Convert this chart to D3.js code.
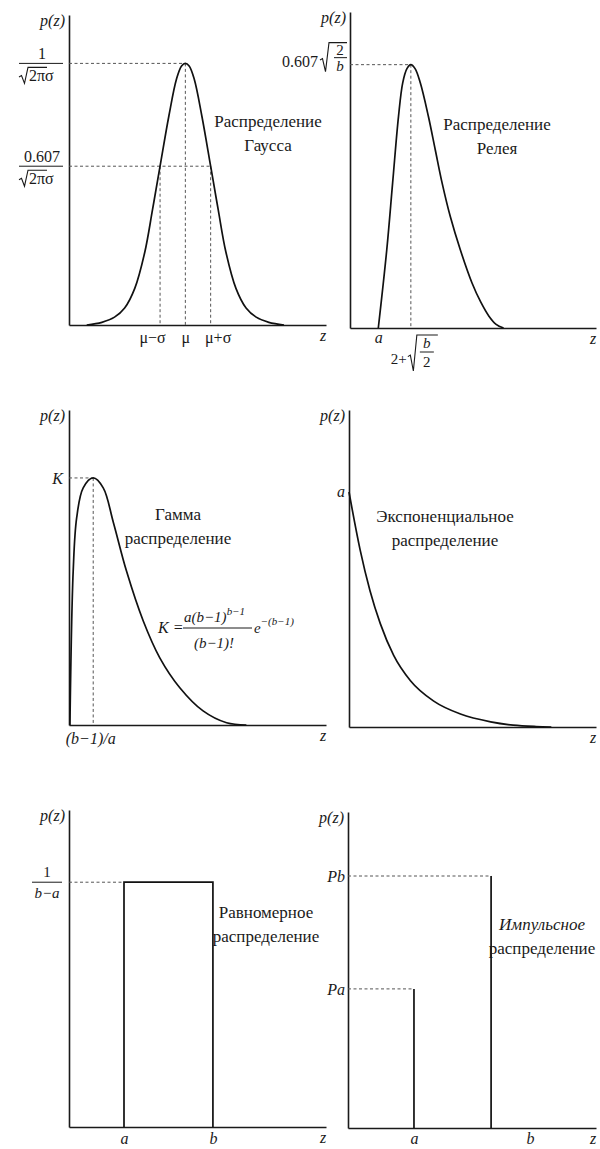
<!DOCTYPE html>
<meta charset="utf-8">
<script src="https://cdn.jsdelivr.net/npm/d3@7"></script>
<style>
body { margin: 0; background: #fff; }
svg text { font-family: "Times New Roman", Times, "Liberation Serif", "DejaVu Serif", "Noto Serif", serif; fill: #1a1a1a; }
.axis path { stroke: #1a1a1a; stroke-width: 1.6; }
.axis text { font-size: 16px; }
.curve { fill: none; stroke: #111; stroke-width: 1.7; }
.guide { fill: none; stroke: #555; stroke-width: 1; stroke-dasharray: 3,2.5; }
.title { font-size: 17px; text-anchor: middle; }
.lab { font-size: 16px; }
.it { font-style: italic; }
.bar { stroke: #1a1a1a; stroke-width: 1; }
.rad { fill: none; stroke: #1a1a1a; stroke-width: 1.1; }
</style>
<body>
<div id="chart"></div>
<script>
//---------------------------- DATA ----------------------------//
// Gauss: z in sigma units from mu, p relative to the peak
const gaussZ = [-3.9, -3.3, -2.8, -2.4, -2.0, -1.6, -1.3, -1.0, -0.65, -0.35, -0.15, 0, 0.15, 0.35, 0.65, 1.0, 1.3, 1.6, 2.0, 2.4, 2.8, 3.3, 3.9];
const gaussP = [0, 0.01, 0.03, 0.065, 0.14, 0.28, 0.44, 0.607, 0.80, 0.94, 0.99, 1, 0.99, 0.94, 0.80, 0.607, 0.44, 0.28, 0.14, 0.065, 0.03, 0.01, 0];
const gaussTickZ = [-1, 0, 1];
const gaussTicks = ["μ−σ", "μ", "μ+σ"];
const gaussLevel = 0.607;

// Rayleigh: z measured from a, peak at 1
const rayZ = [0, 0.26, 0.44, 0.62, 0.75, 0.88, 1.0, 1.13, 1.29, 1.54, 1.75, 1.96, 2.21, 2.52, 2.88, 3.15, 3.4, 3.62, 3.85];
const rayP = [0, 0.297, 0.551, 0.803, 0.931, 0.985, 1, 0.985, 0.931, 0.803, 0.677, 0.551, 0.424, 0.297, 0.171, 0.098, 0.045, 0.014, 0];

// Gamma: peak at (b-1)/a = 1
const gamZ = [0, 0.14, 0.29, 0.57, 1.0, 1.43, 1.86, 2.43, 3.15, 3.86, 4.72, 5.72, 6.73, 7.58];
const gamP = [0, 0.623, 0.839, 0.960, 1, 0.960, 0.822, 0.623, 0.421, 0.272, 0.151, 0.057, 0.009, 0];

// Exponential
const expZ = [0, 0.29, 0.55, 0.82, 1.17, 1.61, 2.22, 2.92, 3.71, 4.3, 4.9, 5.3];
const expP = [1, 0.755, 0.58, 0.44, 0.305, 0.197, 0.11, 0.055, 0.022, 0.008, 0.002, 0];

// Uniform
const uniA = 2.14, uniB = 5.60, uniH = 1;
const uniTickZ = [2.14, 5.60];
const uniTicks = ["a", "b"];

// Impulse
const impZ = [2.66, 5.77];
const impP = [0.552, 1];
const impTickZ = [2.66, 7.34];
const impTicks = ["a", "b"];

//---------------------------- LAYOUT ----------------------------//
const W = 600, H = 1149;
const frames = {
  gauss: { x0: 69, x1: 326, y0: 325, y1: 15, xd: [-4.6, 5.56], yd: [0, 1.185] },
  ray:   { x0: 350, x1: 596, y0: 328, y1: 12, xd: [-0.87, 6.69], yd: [0, 1.2] },
  gam:   { x0: 69, x1: 326, y0: 725, y1: 410, xd: [-0.04, 11.0], yd: [0, 1.275] },
  exp:   { x0: 349, x1: 596, y0: 727, y1: 410, xd: [0, 6.47], yd: [0, 1.349] },
  uni:   { x0: 69, x1: 326, y0: 1127, y1: 810, xd: [0, 10], yd: [0, 1.295] },
  imp:   { x0: 348, x1: 596, y0: 1128, y1: 812, xd: [0, 10], yd: [0, 1.254] }
};

const svg = d3.select("#chart").append("svg")
  .attr("width", W).attr("height", H);

function panel(f, ticks, labels, pad) {
  const g = svg.append("g");
  const x = d3.scaleLinear().domain(f.xd).range([f.x0, f.x1]);
  const y = d3.scaleLinear().domain(f.yd).range([f.y0, f.y1]);
  const xa = g.append("g").attr("class", "axis")
    .attr("transform", "translate(0," + f.y0 + ")")
    .call(d3.axisBottom(x).tickValues(ticks || []).tickSize(0).tickPadding(pad || 7)
      .tickFormat((d, i) => labels[i]));
  g.append("g").attr("class", "axis")
    .attr("transform", "translate(" + f.x0 + ",0)")
    .call(d3.axisLeft(y).tickValues([]).tickSize(0));
  // p(z) and z
  g.append("text").attr("class", "lab it").attr("x", f.x0 - 4).attr("y", f.y1 + 11)
    .attr("text-anchor", "end").text("p(z)");
  g.append("text").attr("class", "lab it").attr("x", f.x1 - 3).attr("y", Math.min(f.y0 + 16, H - 5))
    .attr("text-anchor", "middle").text("z");
  return { g, x, y, xa };
}

function guide(p, pts) {
  p.g.append("path").attr("class", "guide")
    .attr("d", d3.line().x(d => p.x(d[0])).y(d => p.y(d[1]))(pts));
}

function curve(p, Z, P, kind) {
  p.g.append("path").datum(d3.zip(Z, P)).attr("class", "curve")
    .attr("d", d3.line().x(d => p.x(d[0])).y(d => p.y(d[1])).curve(kind || d3.curveCatmullRom.alpha(0.5)));
}

function radical(g, x, top, bottom, w) {
  const mid = bottom - (bottom - top) * 0.4;
  g.append("path").attr("class", "rad")
    .attr("d", `M${x},${mid} l2.5,-1.5 L${x + 5.5},${bottom} L${x + 9},${top} h${w}`);
}

function txt(g, x, y, s, anchor, cls, size) {
  return g.append("text").attr("class", cls || "lab").attr("x", x).attr("y", y)
    .attr("text-anchor", anchor || "start").style("font-size", size ? size + "px" : null).text(s);
}

function title(g, x, y, lines, italicFirst) {
  lines.forEach((s, i) => {
    g.append("text").attr("class", "title" + (italicFirst && i === 0 ? " it" : ""))
      .attr("x", x).attr("y", y + i * 24).text(s);
  });
}

//---------------------------- GAUSS ----------------------------//
{
  const p = panel(frames.gauss, gaussTickZ, gaussTicks, 7);
  p.xa.selectAll(".tick text").attr("dx", (d, i) => [-8, 0, 7][i]);
  guide(p, [[p.x.invert(frames.gauss.x0), 1], [0, 1]]);
  guide(p, [[p.x.invert(frames.gauss.x0), gaussLevel], [1, gaussLevel]]);
  guide(p, [[-1, gaussLevel], [-1, 0]]);
  guide(p, [[0, 1], [0, 0]]);
  guide(p, [[1, gaussLevel], [1, 0]]);
  curve(p, gaussZ, gaussP);
  [[1, "1"], [gaussLevel, "0.607"]].forEach(([v, s]) => {
    const yb = p.y(v);
    txt(p.g, 42, yb - 4, s, "middle");
    p.g.append("line").attr("class", "bar").attr("x1", 19).attr("x2", 63).attr("y1", yb).attr("y2", yb);
    radical(p.g, 19, yb + 4, yb + 20, 19);
    txt(p.g, 29, yb + 18, "2πσ");
  });
  title(p.g, 268, 127, ["Распределение", "Гаусса"]);
}

//---------------------------- RAYLEIGH ----------------------------//
{
  const p = panel(frames.ray, [0], ["a"], 4);
  p.xa.selectAll(".tick text").attr("class", "it");
  guide(p, [[p.x.invert(frames.ray.x0), 1], [1, 1]]);
  guide(p, [[1, 1], [1, 0]]);
  curve(p, rayZ, rayP);
  const yb = p.y(1);
  txt(p.g, 318, yb + 2, "0.607", "end");
  radical(p.g, 320, yb - 22, yb + 7, 18);
  txt(p.g, 340, yb - 10, "2", "middle", "lab", 15);
  p.g.append("line").attr("class", "bar").attr("x1", 334).attr("x2", 347).attr("y1", yb - 7).attr("y2", yb - 7);
  txt(p.g, 340, yb + 6, "b", "middle", "lab it", 15);
  // 2 + sqrt(b/2) under the peak
  const xm = p.x(1);
  txt(p.g, xm - 20, 364, "2+", "start", "lab", 15);
  radical(p.g, xm - 3, 335, 371, 21);
  txt(p.g, xm + 16, 348, "b", "middle", "lab it", 15);
  p.g.append("line").attr("class", "bar").attr("x1", xm + 9).attr("x2", xm + 23).attr("y1", 352).attr("y2", 352);
  txt(p.g, xm + 16, 367, "2", "middle", "lab", 15);
  title(p.g, 497, 130, ["Распределение", "Релея"]);
}

//---------------------------- GAMMA ----------------------------//
{
  const p = panel(frames.gam, [1], ["(b−1)/a"], 8);
  p.xa.selectAll(".tick text").attr("class", "it").attr("dx", -3);
  guide(p, [[p.x.invert(frames.gam.x0), 1], [1, 1]]);
  guide(p, [[1, 1], [1, 0]]);
  curve(p, gamZ, gamP);
  txt(p.g, 63, p.y(1) + 6, "K", "end", "lab it");
  // formula
  txt(p.g, 158, 633, "K =", "start", "lab it");
  const num = txt(p.g, 184, 622, "", "start", "lab it", 15);
  num.append("tspan").text("a(b−1)");
  num.append("tspan").attr("dy", -7).style("font-size", "11px").text("b−1");
  p.g.append("line").attr("class", "bar").attr("x1", 183).attr("x2", 252).attr("y1", 628).attr("y2", 628);
  txt(p.g, 214, 648, "(b−1)!", "middle", "lab it", 15);
  const ex = txt(p.g, 254, 633, "", "start", "lab it", 15);
  ex.append("tspan").text("e");
  ex.append("tspan").attr("dy", -8).style("font-size", "11px").text("−(b−1)");
  title(p.g, 178, 520, ["Гамма", "распределение"]);
}

//---------------------------- EXPONENTIAL ----------------------------//
{
  const p = panel(frames.exp, [], [], 7);
  curve(p, expZ, expP, d3.curveMonotoneX);
  txt(p.g, 345, p.y(1) + 5, "a", "end", "lab it");
  title(p.g, 445, 522, ["Экспоненциальное", "распределение"]);
}

//---------------------------- UNIFORM ----------------------------//
{
  const p = panel(frames.uni, uniTickZ, uniTicks, 6);
  p.xa.selectAll(".tick text").attr("class", "it");
  guide(p, [[0, uniH], [uniA, uniH]]);
  p.g.append("path").attr("class", "curve")
    .attr("d", d3.line().x(d => p.x(d[0])).y(d => p.y(d[1]))([[uniA, 0], [uniA, uniH], [uniB, uniH], [uniB, 0]]));
  const yb = p.y(uniH);
  txt(p.g, 47, yb - 5, "1", "middle", "lab", 15);
  p.g.append("line").attr("class", "bar").attr("x1", 32).attr("x2", 62).attr("y1", yb).attr("y2", yb);
  txt(p.g, 47, yb + 16, "b−a", "middle", "lab it", 15);
  title(p.g, 266, 918, ["Равномерное", "распределение"]);
}

//---------------------------- IMPULSE ----------------------------//
{
  const p = panel(frames.imp, impTickZ, impTicks, 5);
  p.xa.selectAll(".tick text").attr("class", "it");
  impZ.forEach((z, i) => {
    guide(p, [[0, impP[i]], [z, impP[i]]]);
    p.g.append("path").attr("class", "curve")
      .attr("d", d3.line().x(d => p.x(d[0])).y(d => p.y(d[1]))([[z, 0], [z, impP[i]]]));
  });
  txt(p.g, 345, p.y(impP[1]) + 6, "Pb", "end", "lab it");
  txt(p.g, 345, p.y(impP[0]) + 6, "Pa", "end", "lab it");
  title(p.g, 542, 930, ["Импульсное", "распределение"], true);
}
</script>
</body>
